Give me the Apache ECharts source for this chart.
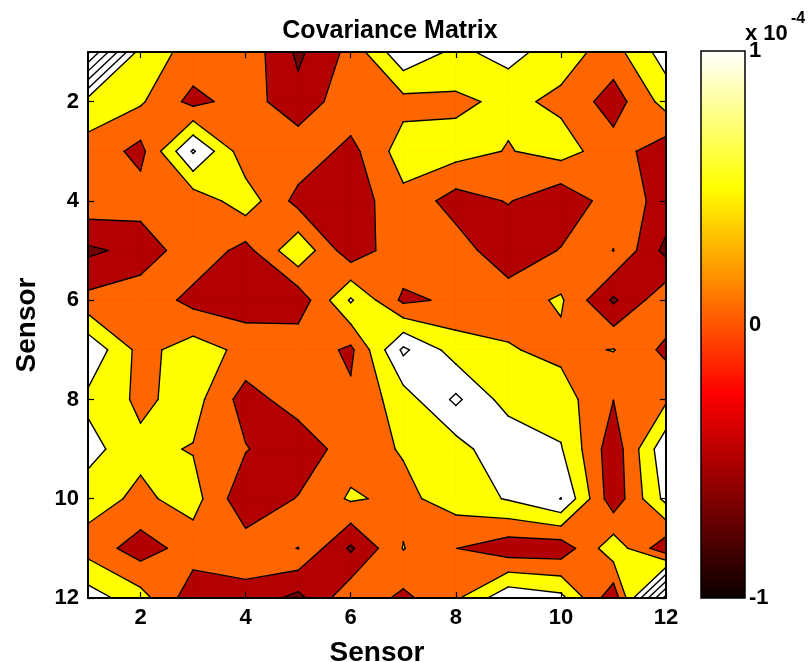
<!DOCTYPE html>
<html>
<head>
<meta charset="utf-8">
<title>Covariance Matrix</title>
<script src="https://cdn.jsdelivr.net/npm/echarts@6/dist/echarts.min.js"></script>
<style>
  html, body { margin: 0; padding: 0; background: #ffffff; }
  #chart { width: 811px; height: 662px; }
</style>
</head>
<body>
<div id="chart"></div>
<script>
// Sensor indices (both axes)
const sensors = [1, 2, 3, 4, 5, 6, 7, 8, 9, 10, 11, 12];

// Covariance between sensors, in units of 1e-4 (row = sensor on the vertical axis)
const row01 = [3.6, 0.74, 0.35, 0.35, -0.6, 0.15, 1.4, 0.88, 1.2, 0.7, 0.3, 1.25];
const row02 = [0.74, 0.565, -0.16, 0.24, -0.34, 0.35, 0.33, 0.4, 0.61, 0.4, -0.24, 0.7];
const row03 = [0.35, -0.16, 1.56, 0.17, 0.35, -0.16, 0.75, 0.7, 0.47, 0.7, 0.23, -0.3];
const row04 = [0.35, 0.24, 0.17, 0.78, -0.17, -0.3, 0.36, -0.22, 0.03, -0.37, 0.25, -0.15];
const row05 = [-0.6, -0.34, 0.35, -0.17, 0.9, -0.33, 0.36, 0.25, -0.35, 0.03, 0.51, -0.65];
const row06 = [0.15, 0.35, -0.16, -0.3, -0.33, 1.06, -0.11, 0.1, 0.28, 0.565, -0.58, 0.38];
const row07 = [1.4, 0.33, 0.75, 0.36, 0.36, -0.11, 1.6, 0.76, 0.54, 0.37, 0.52, -0.12];
const row08 = [0.88, 0.4, 0.7, -0.22, 0.25, 0.1, 0.76, 1.6, 0.77, 0.74, 0.005, 0.42];
const row09 = [1.2, 0.61, 0.47, 0.03, -0.35, 0.28, 0.54, 0.77, 1.45, 1.04, -0.31, 1.38];
const row10 = [0.7, 0.4, 0.7, -0.37, 0.03, 0.565, 0.37, 0.74, 1.04, 1.51, -0.32, 1.15];
const row11 = [0.3, -0.24, 0.23, 0.25, 0.51, -0.58, 0.52, 0.005, -0.31, -0.32, 0.826, -0.36];
const row12 = [1.25, 0.7, -0.3, -0.15, -0.65, 0.38, -0.12, 0.42, 1.38, 1.15, -0.36, 3.2];
const covRows = [row01, row02, row03, row04, row05, row06, row07, row08, row09, row10, row11, row12];

// Axis tick labels
const tickValues = [2, 4, 6, 8, 10, 12];
// Colour scale range (x 1e-4)
const scaleRange = [-1, 1];

// Filled contour levels: everything below the first level gets the first colour
const fillLevels = [-0.5, 0, 0.5, 1.0];
const bandColors = ['#6e0000', '#b30000', '#ff6600', '#ffff00', '#ffffff'];
// Contour lines drawn on top
const lineLevels = [-0.5, 0, 0.5, 1.0, 1.5, 2.0, 2.5, 3.0, 3.5];

const FONT = '"Liberation Sans", Arial, Helvetica, sans-serif';

// ---- marching-squares helpers (data space) ----
const cells = [];
for (let r = 1; r < sensors.length; r++) {
  for (let c = 1; c < sensors.length; c++) cells.push([sensors[c - 1], sensors[r - 1]]);
}

function cornersAt(x, y) {
  // top-left, top-right, bottom-right, bottom-left (y grows downward)
  return [[x, y], [x + 1, y], [x + 1, y + 1], [x, y + 1]].map(function (p) {
    return { x: p[0], y: p[1], v: covRows[p[1] - 1][p[0] - 1] };
  });
}

function interp(a, b, t) {
  const f = (t - a.v) / (b.v - a.v);
  return [a.x + f * (b.x - a.x), a.y + f * (b.y - a.y)];
}

function cellMean(c) {
  return (c[0].v + c[1].v + c[2].v + c[3].v) / 4;
}

// Region of a cell where value >= t, as polygons
function abovePolys(c, t) {
  const up = c.map(function (p) { return p.v >= t; });
  const n = up.filter(Boolean).length;
  if (n === 0) return [];
  if (n === 2 && up[0] === up[2] && cellMean(c) < t) {
    const polys = [];
    for (let i = 0; i < 4; i++) {
      if (!up[i]) continue;
      const prev = c[(i + 3) % 4], next = c[(i + 1) % 4];
      polys.push([interp(prev, c[i], t), [c[i].x, c[i].y], interp(c[i], next, t)]);
    }
    return polys;
  }
  const pts = [];
  for (let i = 0; i < 4; i++) {
    const j = (i + 1) % 4;
    if (up[i]) pts.push([c[i].x, c[i].y]);
    if (up[i] !== up[j]) pts.push(interp(c[i], c[j], t));
  }
  return [pts];
}

// Contour segments of level t inside a cell
function contourSegments(c, t) {
  const up = c.map(function (p) { return p.v >= t; });
  const n = up.filter(Boolean).length;
  if (n === 0 || n === 4) return [];
  const cross = function (i) {
    const j = (i + 1) % 4;
    return up[i] !== up[j] ? interp(c[i], c[j], t) : null;
  };
  if (n === 2 && up[0] === up[2]) {
    const joinHigh = cellMean(c) >= t;
    const segs = [];
    for (let i = 0; i < 4; i++) {
      if (up[i] !== joinHigh) segs.push([cross((i + 3) % 4), cross(i)]);
    }
    return segs;
  }
  const pts = [];
  for (let i = 0; i < 4; i++) {
    const p = cross(i);
    if (p) pts.push(p);
  }
  return [pts];
}

function fillRenderer(level, color) {
  return function (params, api) {
    const x = api.value(0), y = api.value(1);
    const c = cornersAt(x, y);
    const polys = level === null
      ? [[[x, y], [x + 1, y], [x + 1, y + 1], [x, y + 1]]]
      : abovePolys(c, level);
    return {
      type: 'group',
      children: polys.map(function (poly) {
        return {
          type: 'polygon',
          shape: { points: poly.map(function (p) { return api.coord(p); }) },
          style: { fill: color, stroke: color, lineWidth: 0.7 }
        };
      })
    };
  };
}

function lineRenderer(params, api) {
  const x = api.value(0), y = api.value(1);
  const c = cornersAt(x, y);
  const children = [];
  lineLevels.forEach(function (t) {
    contourSegments(c, t).forEach(function (seg) {
      const p1 = api.coord(seg[0]), p2 = api.coord(seg[1]);
      children.push({
        type: 'line',
        shape: { x1: p1[0], y1: p1[1], x2: p2[0], y2: p2[1] },
        style: { stroke: '#000000', lineWidth: 1.4, lineCap: 'round' }
      });
    });
  });
  return { type: 'group', children: children };
}

function colorbarRenderer(params, api) {
  const p0 = api.coord([api.value(0), api.value(2)]);
  const p1 = api.coord([api.value(1), api.value(3)]);
  return {
    type: 'rect',
    shape: { x: p0[0], y: p1[1], width: p1[0] - p0[0], height: p0[1] - p1[1] },
    style: {
      stroke: '#000000',
      lineWidth: 1.5,
      fill: {
        type: 'linear', x: 0, y: 0, x2: 0, y2: 1,
        colorStops: [
          { offset: 0, color: '#ffffff' },
          { offset: 0.25, color: '#ffff00' },
          { offset: 0.625, color: '#ff0000' },
          { offset: 1, color: '#0a0000' }
        ]
      }
    }
  };
}

// ---- chart ----
const axisLineStyle = { show: true, onZero: false, lineStyle: { color: '#000000', width: 2 } };
const innerTicks = { show: true, inside: true, length: 6, customValues: tickValues,
                     lineStyle: { color: '#000000', width: 1.2 } };
const labelStyle = { fontSize: 22, fontWeight: 'bold', color: '#000000', fontFamily: FONT };
const nameStyle = { fontSize: 28, fontWeight: 'bold', color: '#000000', fontFamily: FONT };

const series = [];
series.push({
  type: 'custom', xAxisIndex: 0, yAxisIndex: 0, data: cells, clip: true, silent: true,
  renderItem: fillRenderer(null, bandColors[0])
});
fillLevels.forEach(function (lvl, k) {
  series.push({
    type: 'custom', xAxisIndex: 0, yAxisIndex: 0, data: cells, clip: true, silent: true,
    renderItem: fillRenderer(lvl, bandColors[k + 1])
  });
});
series.push({
  type: 'custom', xAxisIndex: 0, yAxisIndex: 0, data: cells, clip: true, silent: true,
  renderItem: lineRenderer
});
series.push({
  type: 'custom', xAxisIndex: 2, yAxisIndex: 2, silent: true,
  data: [[0, 1, scaleRange[0], scaleRange[1]]],
  renderItem: colorbarRenderer
});

const option = {
  animation: false,
  backgroundColor: '#ffffff',
  grid: [
    { left: 88, top: 52, width: 578, height: 546, containLabel: false, outerBoundsMode: 'none' },
    { left: 701, top: 51, width: 44, height: 547, containLabel: false, outerBoundsMode: 'none' }
  ],
  xAxis: [
    {
      type: 'value', gridIndex: 0, min: 1, max: 12, position: 'bottom', z: 5,
      axisLine: axisLineStyle, axisTick: innerTicks,
      axisLabel: Object.assign({ customValues: tickValues, margin: 9 }, labelStyle),
      splitLine: { show: false },
      name: 'Sensor', nameLocation: 'middle', nameGap: 41, nameTextStyle: nameStyle
    },
    {
      type: 'value', gridIndex: 0, min: 1, max: 12, position: 'top', z: 5,
      axisLine: axisLineStyle, axisTick: innerTicks,
      axisLabel: { show: false }, splitLine: { show: false }
    },
    {
      type: 'value', gridIndex: 1, min: 0, max: 1, z: 5,
      axisLine: { show: false }, axisTick: { show: false },
      axisLabel: { show: false }, splitLine: { show: false }
    }
  ],
  yAxis: [
    {
      type: 'value', gridIndex: 0, min: 1, max: 12, inverse: true, position: 'left', z: 5,
      axisLine: axisLineStyle, axisTick: innerTicks,
      axisLabel: Object.assign({ customValues: tickValues, margin: 9 }, labelStyle),
      splitLine: { show: false },
      name: 'Sensor', nameLocation: 'middle', nameGap: 47, nameTextStyle: nameStyle
    },
    {
      type: 'value', gridIndex: 0, min: 1, max: 12, inverse: true, position: 'right', z: 5,
      axisLine: axisLineStyle, axisTick: innerTicks,
      axisLabel: { show: false }, splitLine: { show: false }
    },
    {
      type: 'value', gridIndex: 1, min: scaleRange[0], max: scaleRange[1], interval: 1,
      position: 'right', z: 5,
      axisLine: { show: false, onZero: false },
      axisTick: { show: false },
      axisLabel: Object.assign({ margin: 4 }, labelStyle),
      splitLine: { show: false }
    }
  ],
  graphic: [
    {
      type: 'text', x: 390, y: 31, z: 10,
      style: { text: 'Covariance Matrix', fill: '#000000', font: 'bold 25px ' + FONT,
               textAlign: 'center', textVerticalAlign: 'middle' }
    },
    {
      type: 'text', x: 745, y: 34, z: 10,
      style: { text: 'x 10', fill: '#000000', font: 'bold 22px ' + FONT,
               textAlign: 'left', textVerticalAlign: 'middle' }
    },
    {
      type: 'text', x: 791, y: 19, z: 10,
      style: { text: '-4', fill: '#000000', font: 'bold 16px ' + FONT,
               textAlign: 'left', textVerticalAlign: 'middle' }
    }
  ],
  series: series
};

const chart = echarts.init(document.getElementById('chart'), null, { renderer: 'canvas' });
chart.setOption(option);
</script>
</body>
</html>
